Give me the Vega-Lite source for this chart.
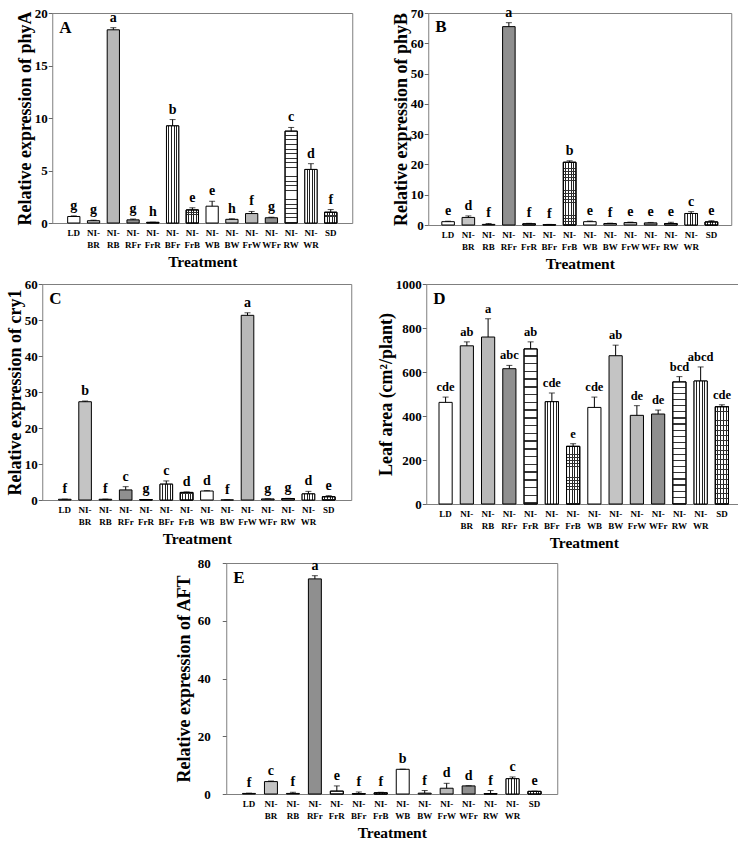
{
"$schema":"https://vega.github.io/schema/vega-lite/v6.json",
"background":"white",
"padding":5,
"params":[
 {"name":"vsg","value":{"gradient":"linear","x1":0,"y1":0,"x2":1,"y2":0,"stops":[{"offset":0,"color":"white"},{"offset":0.16,"color":"white"},{"offset":0.16,"color":"#222"},{"offset":0.24,"color":"#222"},{"offset":0.24,"color":"white"},{"offset":0.38,"color":"white"},{"offset":0.38,"color":"#222"},{"offset":0.46,"color":"#222"},{"offset":0.46,"color":"white"},{"offset":0.58,"color":"white"},{"offset":0.58,"color":"#222"},{"offset":0.66,"color":"#222"},{"offset":0.66,"color":"white"},{"offset":0.78,"color":"white"},{"offset":0.78,"color":"#222"},{"offset":0.86,"color":"#222"},{"offset":0.86,"color":"white"},{"offset":1,"color":"white"}]}},
 {"name":"hsg","value":{"gradient":"linear","x1":0,"y1":0,"x2":0,"y2":1,"stops":[
{"offset":0,"color":"rgba(0,0,0,0)"},{"offset":0.04,"color":"rgba(0,0,0,0)"},{"offset":0.04,"color":"#333"},{"offset":0.05,"color":"#333"},
{"offset":0.05,"color":"rgba(0,0,0,0)"},{"offset":0.09,"color":"rgba(0,0,0,0)"},{"offset":0.09,"color":"#333"},{"offset":0.1,"color":"#333"},
{"offset":0.1,"color":"rgba(0,0,0,0)"},{"offset":0.14,"color":"rgba(0,0,0,0)"},{"offset":0.14,"color":"#333"},{"offset":0.15,"color":"#333"},
{"offset":0.15,"color":"rgba(0,0,0,0)"},{"offset":0.19,"color":"rgba(0,0,0,0)"},{"offset":0.19,"color":"#333"},{"offset":0.2,"color":"#333"},
{"offset":0.2,"color":"rgba(0,0,0,0)"},{"offset":0.24,"color":"rgba(0,0,0,0)"},{"offset":0.24,"color":"#333"},{"offset":0.25,"color":"#333"},
{"offset":0.25,"color":"rgba(0,0,0,0)"},{"offset":0.29,"color":"rgba(0,0,0,0)"},{"offset":0.29,"color":"#333"},{"offset":0.3,"color":"#333"},
{"offset":0.3,"color":"rgba(0,0,0,0)"},{"offset":0.34,"color":"rgba(0,0,0,0)"},{"offset":0.34,"color":"#333"},{"offset":0.35,"color":"#333"},
{"offset":0.35,"color":"rgba(0,0,0,0)"},{"offset":0.39,"color":"rgba(0,0,0,0)"},{"offset":0.39,"color":"#333"},{"offset":0.4,"color":"#333"},
{"offset":0.4,"color":"rgba(0,0,0,0)"},{"offset":0.44,"color":"rgba(0,0,0,0)"},{"offset":0.44,"color":"#333"},{"offset":0.45,"color":"#333"},
{"offset":0.45,"color":"rgba(0,0,0,0)"},{"offset":0.49,"color":"rgba(0,0,0,0)"},{"offset":0.49,"color":"#333"},{"offset":0.5,"color":"#333"},
{"offset":0.5,"color":"rgba(0,0,0,0)"},{"offset":0.54,"color":"rgba(0,0,0,0)"},{"offset":0.54,"color":"#333"},{"offset":0.55,"color":"#333"},
{"offset":0.55,"color":"rgba(0,0,0,0)"},{"offset":0.59,"color":"rgba(0,0,0,0)"},{"offset":0.59,"color":"#333"},{"offset":0.6,"color":"#333"},
{"offset":0.6,"color":"rgba(0,0,0,0)"},{"offset":0.64,"color":"rgba(0,0,0,0)"},{"offset":0.64,"color":"#333"},{"offset":0.65,"color":"#333"},
{"offset":0.65,"color":"rgba(0,0,0,0)"},{"offset":0.69,"color":"rgba(0,0,0,0)"},{"offset":0.69,"color":"#333"},{"offset":0.7,"color":"#333"},
{"offset":0.7,"color":"rgba(0,0,0,0)"},{"offset":0.74,"color":"rgba(0,0,0,0)"},{"offset":0.74,"color":"#333"},{"offset":0.75,"color":"#333"},
{"offset":0.75,"color":"rgba(0,0,0,0)"},{"offset":0.79,"color":"rgba(0,0,0,0)"},{"offset":0.79,"color":"#333"},{"offset":0.8,"color":"#333"},
{"offset":0.8,"color":"rgba(0,0,0,0)"},{"offset":0.84,"color":"rgba(0,0,0,0)"},{"offset":0.84,"color":"#333"},{"offset":0.85,"color":"#333"},
{"offset":0.85,"color":"rgba(0,0,0,0)"},{"offset":0.89,"color":"rgba(0,0,0,0)"},{"offset":0.89,"color":"#333"},{"offset":0.9,"color":"#333"},
{"offset":0.9,"color":"rgba(0,0,0,0)"},{"offset":0.94,"color":"rgba(0,0,0,0)"},{"offset":0.94,"color":"#333"},{"offset":0.95,"color":"#333"},
{"offset":0.95,"color":"rgba(0,0,0,0)"},{"offset":0.99,"color":"rgba(0,0,0,0)"},{"offset":0.99,"color":"#333"},{"offset":1,"color":"#333"}]}}
],
"datasets":{
"A":[{"t":"LD","v":0.62,"hi":0.68,"l":"g"},{"t":"NI-BR","v":0.22,"hi":0.27,"l":"g"},{"t":"NI-RB","v":18.4,"hi":18.6,"l":"a"},{"t":"NI-RFr","v":0.3,"hi":0.38,"l":"g"},{"t":"NI-FrR","v":0.06,"hi":0.08,"l":"h"},{"t":"NI-BFr","v":9.25,"hi":9.85,"l":"b"},{"t":"NI-FrB","v":1.24,"hi":1.45,"l":"e"},{"t":"NI-WB","v":1.6,"hi":2.07,"l":"e"},{"t":"NI-BW","v":0.35,"hi":0.4,"l":"h"},{"t":"NI-FrW","v":0.9,"hi":1.1,"l":"f"},{"t":"NI-WFr","v":0.5,"hi":0.55,"l":"g"},{"t":"NI-RW","v":8.75,"hi":9.1,"l":"c"},{"t":"NI-WR","v":5.1,"hi":5.65,"l":"d"},{"t":"SD","v":1.02,"hi":1.28,"l":"f"}],
"B":[{"t":"LD","v":1.1,"hi":1.25,"l":"e"},{"t":"NI-BR","v":2.5,"hi":3.0,"l":"d"},{"t":"NI-RB","v":0.2,"hi":0.5,"l":"f"},{"t":"NI-RFr","v":65.5,"hi":66.8,"l":"a"},{"t":"NI-FrR","v":0.4,"hi":0.55,"l":"f"},{"t":"NI-BFr","v":0.1,"hi":0.2,"l":"f"},{"t":"NI-FrB","v":20.7,"hi":21.2,"l":"b"},{"t":"NI-WB","v":1.1,"hi":1.3,"l":"e"},{"t":"NI-BW","v":0.5,"hi":0.6,"l":"f"},{"t":"NI-FrW","v":0.8,"hi":0.95,"l":"e"},{"t":"NI-WFr","v":0.7,"hi":0.85,"l":"e"},{"t":"NI-RW","v":0.5,"hi":0.9,"l":"e"},{"t":"NI-WR","v":3.8,"hi":4.4,"l":"c"},{"t":"SD","v":1.0,"hi":1.4,"l":"e"}],
"C":[{"t":"LD","v":0.2,"hi":0.25,"l":"f"},{"t":"NI-BR","v":27.3,"hi":27.5,"l":"b"},{"t":"NI-RB","v":0.2,"hi":0.25,"l":"f"},{"t":"NI-RFr","v":2.8,"hi":3.7,"l":"c"},{"t":"NI-FrR","v":0.1,"hi":0.15,"l":"g"},{"t":"NI-BFr","v":4.4,"hi":5.3,"l":"c"},{"t":"NI-FrB","v":2.1,"hi":2.25,"l":"d"},{"t":"NI-WB","v":2.5,"hi":2.6,"l":"d"},{"t":"NI-BW","v":0.02,"hi":0.05,"l":"f"},{"t":"NI-FrW","v":51.3,"hi":52.0,"l":"a"},{"t":"NI-WFr","v":0.3,"hi":0.35,"l":"g"},{"t":"NI-RW","v":0.4,"hi":0.45,"l":"g"},{"t":"NI-WR","v":1.7,"hi":2.4,"l":"d"},{"t":"SD","v":0.9,"hi":1.2,"l":"e"}],
"D":[{"t":"LD","v":462,"hi":486,"l":"cde"},{"t":"NI-BR","v":719,"hi":737,"l":"ab"},{"t":"NI-RB","v":759,"hi":842,"l":"a"},{"t":"NI-RFr","v":615,"hi":630,"l":"abc"},{"t":"NI-FrR","v":705,"hi":737,"l":"ab"},{"t":"NI-BFr","v":465,"hi":504,"l":"cde"},{"t":"NI-FrB","v":262,"hi":274,"l":"e"},{"t":"NI-WB","v":439,"hi":486,"l":"cde"},{"t":"NI-BW","v":674,"hi":722,"l":"ab"},{"t":"NI-FrW","v":403,"hi":447,"l":"de"},{"t":"NI-WFr","v":409,"hi":427,"l":"de"},{"t":"NI-RW","v":555,"hi":579,"l":"bcd"},{"t":"NI-WR","v":559,"hi":623,"l":"abcd"},{"t":"SD","v":442,"hi":451,"l":"cde"}],
"E":[{"t":"LD","v":0.2,"hi":0.3,"l":"f"},{"t":"NI-BR","v":4.3,"hi":4.5,"l":"c"},{"t":"NI-RB","v":0.2,"hi":0.6,"l":"f"},{"t":"NI-RFr","v":74.5,"hi":75.6,"l":"a"},{"t":"NI-FrR","v":1.0,"hi":2.8,"l":"e"},{"t":"NI-BFr","v":0.1,"hi":0.7,"l":"f"},{"t":"NI-FrB","v":0.4,"hi":0.6,"l":"f"},{"t":"NI-WB","v":8.55,"hi":8.6,"l":"b"},{"t":"NI-BW","v":0.3,"hi":1.2,"l":"f"},{"t":"NI-FrW","v":2.0,"hi":3.7,"l":"d"},{"t":"NI-WFr","v":2.8,"hi":2.85,"l":"d"},{"t":"NI-RW","v":0.1,"hi":1.2,"l":"f"},{"t":"NI-WR","v":5.3,"hi":5.9,"l":"c"},{"t":"SD","v":0.9,"hi":1.0,"l":"e"}]
},
"vconcat":[
{"hconcat":[
{"width":300,"height":210,"data":{"name":"A"},"title":{"text":"A"},
 "encoding":{"x":{"field":"t","type":"nominal","title":"Treatment","scale":{"domain":["LD","NI-BR","NI-RB","NI-RFr","NI-FrR","NI-BFr","NI-FrB","NI-WB","NI-BW","NI-FrW","NI-WFr","NI-RW","NI-WR","SD"],"paddingInner":0.38,"paddingOuter":0.78},"axis":{"labelExpr":"slice(datum.label,0,3)=='NI-' ? ['NI-', slice(datum.label,3)] : datum.label"}}},
 "layer":[
  {"mark":{"type":"bar","stroke":"black","strokeWidth":1},"encoding":{"y":{"field":"v","type":"quantitative","scale":{"domain":[0,20]},"axis":{"values":[0,5,10,15,20]},"title":"Relative expression of phyA"},"fill":{"field":"t","type":"nominal","legend":null,"scale":{"domain":["LD","NI-BR","NI-RB","NI-RFr","NI-FrR","NI-BFr","NI-FrB","NI-WB","NI-BW","NI-FrW","NI-WFr","NI-RW","NI-WR","SD"],"range":["white","#c4c4c4","#b8b8b8","#8f8f8f","white","white","white","white","#c4c4c4","#b8b8b8","#8f8f8f","white","white","white"]}}}},
  {"transform":[{"filter":{"field":"t","oneOf":["NI-BFr","NI-WR","NI-FrB","SD"]}}],"mark":{"type":"bar","stroke":"black","strokeWidth":1,"fill":{"expr":"vsg"}},"encoding":{"y":{"field":"v","type":"quantitative","scale":{"domain":[0,20]},"axis":{"values":[0,5,10,15,20]},"title":"Relative expression of phyA"}}},
  {"transform":[{"filter":{"field":"t","oneOf":["NI-FrR","NI-RW","NI-FrB","SD"]}}],"mark":{"type":"bar","stroke":"black","strokeWidth":1,"fill":{"expr":"hsg"}},"encoding":{"y":{"field":"v","type":"quantitative","scale":{"domain":[0,20]},"axis":{"values":[0,5,10,15,20]},"title":"Relative expression of phyA"}}},
  {"mark":{"type":"rule","color":"black","strokeWidth":1},"encoding":{"y":{"field":"v","type":"quantitative","scale":{"domain":[0,20]},"axis":{"values":[0,5,10,15,20]},"title":"Relative expression of phyA"},"y2":{"field":"hi"}}},
  {"mark":{"type":"tick","color":"black","thickness":1,"size":6},"encoding":{"y":{"field":"hi","type":"quantitative","scale":{"domain":[0,20]},"axis":{"values":[0,5,10,15,20]},"title":"Relative expression of phyA"}}},
  {"mark":{"type":"text","baseline":"bottom","dy":-3,"fontSize":14,"fontWeight":"bold","font":"Liberation Serif","color":"black"},"encoding":{"y":{"field":"hi","type":"quantitative","scale":{"domain":[0,20]},"axis":{"values":[0,5,10,15,20]},"title":"Relative expression of phyA"},"text":{"field":"l"}}}
 ]},
{"width":303,"height":212,"data":{"name":"B"},"title":{"text":"B"},
 "encoding":{"x":{"field":"t","type":"nominal","title":"Treatment","scale":{"domain":["LD","NI-BR","NI-RB","NI-RFr","NI-FrR","NI-BFr","NI-FrB","NI-WB","NI-BW","NI-FrW","NI-WFr","NI-RW","NI-WR","SD"],"paddingInner":0.38,"paddingOuter":0.67},"axis":{"labelExpr":"slice(datum.label,0,3)=='NI-' ? ['NI-', slice(datum.label,3)] : datum.label"}}},
 "layer":[
  {"mark":{"type":"bar","stroke":"black","strokeWidth":1},"encoding":{"y":{"field":"v","type":"quantitative","scale":{"domain":[0,70]},"axis":{"values":[0,10,20,30,40,50,60,70]},"title":"Relative expression of phyB"},"fill":{"field":"t","type":"nominal","legend":null,"scale":{"domain":["LD","NI-BR","NI-RB","NI-RFr","NI-FrR","NI-BFr","NI-FrB","NI-WB","NI-BW","NI-FrW","NI-WFr","NI-RW","NI-WR","SD"],"range":["white","#c4c4c4","#b8b8b8","#8f8f8f","white","white","white","white","#c4c4c4","#b8b8b8","#8f8f8f","white","white","white"]}}}},
  {"transform":[{"filter":{"field":"t","oneOf":["NI-BFr","NI-WR","NI-FrB","SD"]}}],"mark":{"type":"bar","stroke":"black","strokeWidth":1,"fill":{"expr":"vsg"}},"encoding":{"y":{"field":"v","type":"quantitative","scale":{"domain":[0,70]},"axis":{"values":[0,10,20,30,40,50,60,70]},"title":"Relative expression of phyB"}}},
  {"transform":[{"filter":{"field":"t","oneOf":["NI-FrR","NI-RW","NI-FrB","SD"]}}],"mark":{"type":"bar","stroke":"black","strokeWidth":1,"fill":{"expr":"hsg"}},"encoding":{"y":{"field":"v","type":"quantitative","scale":{"domain":[0,70]},"axis":{"values":[0,10,20,30,40,50,60,70]},"title":"Relative expression of phyB"}}},
  {"mark":{"type":"rule","color":"black","strokeWidth":1},"encoding":{"y":{"field":"v","type":"quantitative","scale":{"domain":[0,70]},"axis":{"values":[0,10,20,30,40,50,60,70]},"title":"Relative expression of phyB"},"y2":{"field":"hi"}}},
  {"mark":{"type":"tick","color":"black","thickness":1,"size":6},"encoding":{"y":{"field":"hi","type":"quantitative","scale":{"domain":[0,70]},"axis":{"values":[0,10,20,30,40,50,60,70]},"title":"Relative expression of phyB"}}},
  {"mark":{"type":"text","baseline":"bottom","dy":-3,"fontSize":14,"fontWeight":"bold","font":"Liberation Serif","color":"black"},"encoding":{"y":{"field":"hi","type":"quantitative","scale":{"domain":[0,70]},"axis":{"values":[0,10,20,30,40,50,60,70]},"title":"Relative expression of phyB"},"text":{"field":"l"}}}
 ]}
],"spacing":38},
{"hconcat":[
{"width":309,"height":216,"data":{"name":"C"},"title":{"text":"C"},
 "encoding":{"x":{"field":"t","type":"nominal","title":"Treatment","scale":{"domain":["LD","NI-BR","NI-RB","NI-RFr","NI-FrR","NI-BFr","NI-FrB","NI-WB","NI-BW","NI-FrW","NI-WFr","NI-RW","NI-WR","SD"],"paddingInner":0.38,"paddingOuter":0.8},"axis":{"labelExpr":"slice(datum.label,0,3)=='NI-' ? ['NI-', slice(datum.label,3)] : datum.label"}}},
 "layer":[
  {"mark":{"type":"bar","stroke":"black","strokeWidth":1},"encoding":{"y":{"field":"v","type":"quantitative","scale":{"domain":[0,60]},"axis":{"values":[0,10,20,30,40,50,60]},"title":"Relative expression of cry1"},"fill":{"field":"t","type":"nominal","legend":null,"scale":{"domain":["LD","NI-BR","NI-RB","NI-RFr","NI-FrR","NI-BFr","NI-FrB","NI-WB","NI-BW","NI-FrW","NI-WFr","NI-RW","NI-WR","SD"],"range":["white","#c4c4c4","#b8b8b8","#8f8f8f","white","white","white","white","#c4c4c4","#b8b8b8","#8f8f8f","white","white","white"]}}}},
  {"transform":[{"filter":{"field":"t","oneOf":["NI-BFr","NI-WR","NI-FrB","SD"]}}],"mark":{"type":"bar","stroke":"black","strokeWidth":1,"fill":{"expr":"vsg"}},"encoding":{"y":{"field":"v","type":"quantitative","scale":{"domain":[0,60]},"axis":{"values":[0,10,20,30,40,50,60]},"title":"Relative expression of cry1"}}},
  {"transform":[{"filter":{"field":"t","oneOf":["NI-FrR","NI-RW","NI-FrB","SD"]}}],"mark":{"type":"bar","stroke":"black","strokeWidth":1,"fill":{"expr":"hsg"}},"encoding":{"y":{"field":"v","type":"quantitative","scale":{"domain":[0,60]},"axis":{"values":[0,10,20,30,40,50,60]},"title":"Relative expression of cry1"}}},
  {"mark":{"type":"rule","color":"black","strokeWidth":1},"encoding":{"y":{"field":"v","type":"quantitative","scale":{"domain":[0,60]},"axis":{"values":[0,10,20,30,40,50,60]},"title":"Relative expression of cry1"},"y2":{"field":"hi"}}},
  {"mark":{"type":"tick","color":"black","thickness":1,"size":6},"encoding":{"y":{"field":"hi","type":"quantitative","scale":{"domain":[0,60]},"axis":{"values":[0,10,20,30,40,50,60]},"title":"Relative expression of cry1"}}},
  {"mark":{"type":"text","baseline":"bottom","dy":-3,"fontSize":14,"fontWeight":"bold","font":"Liberation Serif","color":"black"},"encoding":{"y":{"field":"hi","type":"quantitative","scale":{"domain":[0,60]},"axis":{"values":[0,10,20,30,40,50,60]},"title":"Relative expression of cry1"},"text":{"field":"l"}}}
 ]},
{"width":315,"height":220,"data":{"name":"D"},"title":{"text":"D"},
 "encoding":{"x":{"field":"t","type":"nominal","title":"Treatment","scale":{"domain":["LD","NI-BR","NI-RB","NI-RFr","NI-FrR","NI-BFr","NI-FrB","NI-WB","NI-BW","NI-FrW","NI-WFr","NI-RW","NI-WR","SD"],"paddingInner":0.38,"paddingOuter":0.6},"axis":{"labelExpr":"slice(datum.label,0,3)=='NI-' ? ['NI-', slice(datum.label,3)] : datum.label"}}},
 "layer":[
  {"mark":{"type":"bar","stroke":"black","strokeWidth":1},"encoding":{"y":{"field":"v","type":"quantitative","scale":{"domain":[0,1000]},"axis":{"values":[0,200,400,600,800,1000],"format":"d"},"title":"Leaf area (cm²/plant)"},"fill":{"field":"t","type":"nominal","legend":null,"scale":{"domain":["LD","NI-BR","NI-RB","NI-RFr","NI-FrR","NI-BFr","NI-FrB","NI-WB","NI-BW","NI-FrW","NI-WFr","NI-RW","NI-WR","SD"],"range":["white","#c4c4c4","#b8b8b8","#8f8f8f","white","white","white","white","#c4c4c4","#b8b8b8","#8f8f8f","white","white","white"]}}}},
  {"transform":[{"filter":{"field":"t","oneOf":["NI-BFr","NI-WR","NI-FrB","SD"]}}],"mark":{"type":"bar","stroke":"black","strokeWidth":1,"fill":{"expr":"vsg"}},"encoding":{"y":{"field":"v","type":"quantitative","scale":{"domain":[0,1000]},"axis":{"values":[0,200,400,600,800,1000],"format":"d"},"title":"Leaf area (cm²/plant)"}}},
  {"transform":[{"filter":{"field":"t","oneOf":["NI-FrR","NI-RW","NI-FrB","SD"]}}],"mark":{"type":"bar","stroke":"black","strokeWidth":1,"fill":{"expr":"hsg"}},"encoding":{"y":{"field":"v","type":"quantitative","scale":{"domain":[0,1000]},"axis":{"values":[0,200,400,600,800,1000],"format":"d"},"title":"Leaf area (cm²/plant)"}}},
  {"mark":{"type":"rule","color":"black","strokeWidth":1},"encoding":{"y":{"field":"v","type":"quantitative","scale":{"domain":[0,1000]},"axis":{"values":[0,200,400,600,800,1000],"format":"d"},"title":"Leaf area (cm²/plant)"},"y2":{"field":"hi"}}},
  {"mark":{"type":"tick","color":"black","thickness":1,"size":6},"encoding":{"y":{"field":"hi","type":"quantitative","scale":{"domain":[0,1000]},"axis":{"values":[0,200,400,600,800,1000],"format":"d"},"title":"Leaf area (cm²/plant)"}}},
  {"mark":{"type":"text","baseline":"bottom","dy":-3,"fontSize":12.5,"fontWeight":"bold","font":"Liberation Serif","color":"black"},"encoding":{"y":{"field":"hi","type":"quantitative","scale":{"domain":[0,1000]},"axis":{"values":[0,200,400,600,800,1000],"format":"d"},"title":"Leaf area (cm²/plant)"},"text":{"field":"l"}}}
 ]}
],"spacing":24},
{"width":331,"height":231,"data":{"name":"E"},"title":{"text":"E"},
 "encoding":{"x":{"field":"t","type":"nominal","title":"Treatment","scale":{"domain":["LD","NI-BR","NI-RB","NI-RFr","NI-FrR","NI-BFr","NI-FrB","NI-WB","NI-BW","NI-FrW","NI-WFr","NI-RW","NI-WR","SD"],"paddingInner":0.41,"paddingOuter":0.74},"axis":{"labelExpr":"slice(datum.label,0,3)=='NI-' ? ['NI-', slice(datum.label,3)] : datum.label"}}},
 "layer":[
  {"mark":{"type":"bar","stroke":"black","strokeWidth":1},"encoding":{"y":{"field":"v","type":"quantitative","scale":{"domain":[0,80]},"axis":{"values":[0,20,40,60,80],"labelPadding":12,"titlePadding":4},"title":"Relative expression of AFT"},"fill":{"field":"t","type":"nominal","legend":null,"scale":{"domain":["LD","NI-BR","NI-RB","NI-RFr","NI-FrR","NI-BFr","NI-FrB","NI-WB","NI-BW","NI-FrW","NI-WFr","NI-RW","NI-WR","SD"],"range":["white","#c4c4c4","#b8b8b8","#8f8f8f","white","white","white","white","#c4c4c4","#b8b8b8","#8f8f8f","white","white","white"]}}}},
  {"transform":[{"filter":{"field":"t","oneOf":["NI-BFr","NI-WR","NI-FrB","SD"]}}],"mark":{"type":"bar","stroke":"black","strokeWidth":1,"fill":{"expr":"vsg"}},"encoding":{"y":{"field":"v","type":"quantitative","scale":{"domain":[0,80]},"axis":{"values":[0,20,40,60,80],"labelPadding":12,"titlePadding":4},"title":"Relative expression of AFT"}}},
  {"transform":[{"filter":{"field":"t","oneOf":["NI-FrR","NI-RW","NI-FrB","SD"]}}],"mark":{"type":"bar","stroke":"black","strokeWidth":1,"fill":{"expr":"hsg"}},"encoding":{"y":{"field":"v","type":"quantitative","scale":{"domain":[0,80]},"axis":{"values":[0,20,40,60,80],"labelPadding":12,"titlePadding":4},"title":"Relative expression of AFT"}}},
  {"mark":{"type":"rule","color":"black","strokeWidth":1},"encoding":{"y":{"field":"v","type":"quantitative","scale":{"domain":[0,80]},"axis":{"values":[0,20,40,60,80],"labelPadding":12,"titlePadding":4},"title":"Relative expression of AFT"},"y2":{"field":"hi"}}},
  {"mark":{"type":"tick","color":"black","thickness":1,"size":6},"encoding":{"y":{"field":"hi","type":"quantitative","scale":{"domain":[0,80]},"axis":{"values":[0,20,40,60,80],"labelPadding":12,"titlePadding":4},"title":"Relative expression of AFT"}}},
  {"mark":{"type":"text","baseline":"bottom","dy":-3,"fontSize":14,"fontWeight":"bold","font":"Liberation Serif","color":"black"},"encoding":{"y":{"field":"hi","type":"quantitative","scale":{"domain":[0,80]},"axis":{"values":[0,20,40,60,80],"labelPadding":12,"titlePadding":4},"title":"Relative expression of AFT"},"text":{"field":"l"}}}
 ]}
],
"spacing":5,
"center":true,
"config":{
 "font":"Liberation Serif",
 "view":{"stroke":"#7f7f7f","strokeWidth":1},
 "axis":{"labelFont":"Liberation Serif","titleFont":"Liberation Serif","labelFontWeight":"bold","titleFontWeight":"bold","labelColor":"#000","titleColor":"#000","grid":false,"domain":false},
 "axisX":{"ticks":false,"labelAngle":0,"labelFontSize":9,"labelLineHeight":12,"labelPadding":5,"titleFontSize":15.5,"titlePadding":5,"labelBaseline":"top","labelOverlap":false},
 "axisY":{"tickSize":4,"tickColor":"#666","labelFontSize":13,"labelPadding":1,"titleFontSize":18,"titlePadding":0},
 "title":{"anchor":"start","frame":"group","offset":-30,"dx":7,"fontSize":17,"font":"Liberation Serif","fontWeight":"bold","color":"#000"}
}
}
